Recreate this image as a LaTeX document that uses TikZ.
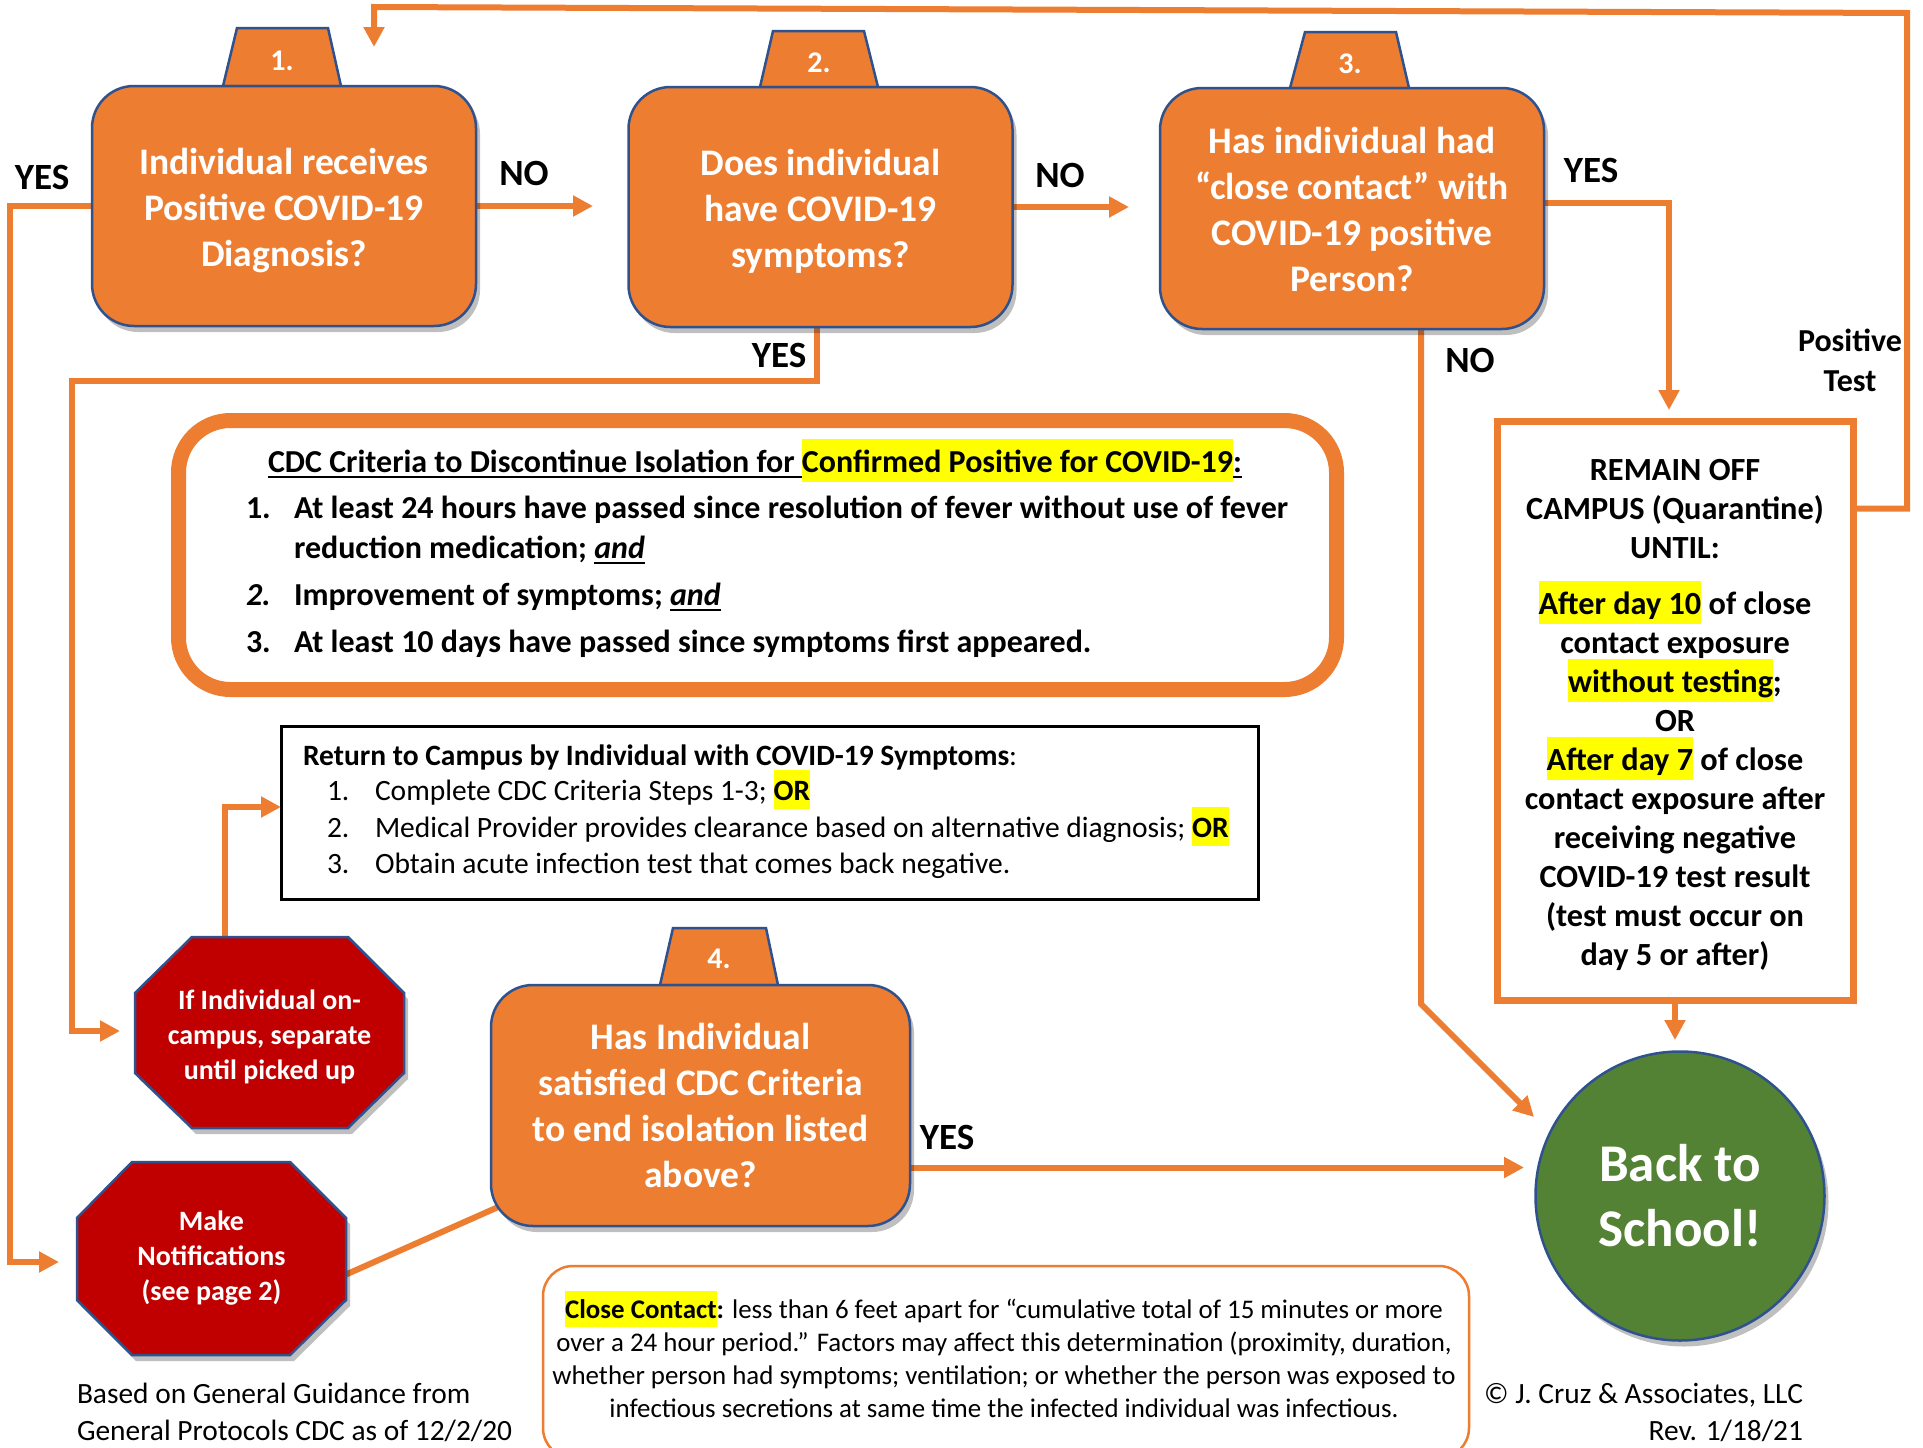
\documentclass[tikz,border=0pt]{standalone}
\usepackage{fontspec}
\setmainfont{Carlito}
\usetikzlibrary{arrows.meta,shadows,backgrounds}
\definecolor{boxorange}{HTML}{ED7D31}
\definecolor{boxblue}{HTML}{2F528F}
\definecolor{stopred}{HTML}{C00000}
\definecolor{schoolgreen}{HTML}{548235}
\definecolor{hlyellow}{HTML}{FFFF00}
\newsavebox\ulbox
\newcommand\hl[1]{\smash{\setlength{\fboxsep}{0pt}\colorbox{hlyellow}{\rule[-0.3em]{0pt}{1.33em}#1}}}
\newcommand\myul[1]{\sbox\ulbox{#1}\rlap{\rule[-6pt]{\wd\ulbox}{2.5pt}}\usebox\ulbox}
\newcommand\fsz[2]{\fontsize{#1}{#2}\selectfont}
\tikzset{
  every node/.style={inner sep=0pt,outer sep=0pt},
  shad/.style={drop shadow={shadow xshift=4pt,shadow yshift=-6pt,opacity=0.25,fill=black}},
  qbox/.style={draw=boxblue,line width=2.5pt,fill=boxorange,rounded corners=42pt,text=white,align=center,font=\fsz{37.5}{46}\bfseries,shad},
  tabfill/.style={draw=boxblue,line width=2.5pt,fill=boxorange,line join=miter},
  tabnum/.style={text=white,font=\fsz{30}{36}\bfseries,anchor=base},
  octfill/.style={draw=boxblue,line width=2.5pt,fill=stopred,line join=miter,shad},
  octtext/.style={text=white,align=center,font=\fsz{28}{35}\bfseries},
  lbl/.style={font=\fsz{37}{40}\bfseries},
  cdctext/.style={font=\fsz{32}{40}\bfseries,anchor=base west},
  rettext/.style={font=\fsz{29.5}{36},anchor=base west},
  arr/.style={draw=boxorange,line width=6pt,-{Triangle[length=20pt,width=20pt]}},
  conn/.style={draw=boxorange,line width=6pt},
}
\begin{document}
\begin{tikzpicture}[x=1pt,y=-1pt]
\useasboundingbox (0,0) rectangle (1923,1448);
% ---------- tabs ----------
\path[tabfill] (223,86) -- (237,28) -- (328,28) -- (341,86) -- cycle;
\node[tabnum] (t1) at (282,70) {1.};
\path[tabfill] (760,87) -- (773,31) -- (864,31) -- (878,87) -- cycle;
\node[tabnum] (t2) at (819,72) {2.};
\path[tabfill] (1290,88) -- (1305,32) -- (1396,32) -- (1409,88) -- cycle;
\node[tabnum] (t3) at (1350,73) {3.};
\path[tabfill] (660,985) -- (673,928) -- (766,928) -- (778,985) -- cycle;
\node[tabnum] (t4) at (719,968) {4.};
% ---------- question boxes ----------
\node[qbox,minimum width=384pt,minimum height=240pt] (b1) at (284,206) {\rule{0pt}{35pt}Individual receives\\Positive COVID-19\\Diagnosis?};
\node[qbox,minimum width=384pt,minimum height=240pt] (b2) at (820.5,207) {\rule{0pt}{35pt}Does individual\\have COVID-19\\symptoms?};
\node[qbox,minimum width=384pt,minimum height=241pt] (b3) at (1352,208.5) {\rule{0pt}{29pt}Has individual had\\“close contact” with\\COVID-19 positive\\Person?};
\node[qbox,minimum width=419pt,minimum height=241pt] (b4) at (700.5,1105.5) {Has Individual\\satisfied CDC Criteria\\to end isolation listed\\above?};
% ---------- CDC criteria box ----------
\node[draw=boxorange,line width=15pt,fill=white,rounded corners=52pt,minimum width=1158pt,minimum height=269pt,shad] (cdc) at (757.5,555) {};
\node[font=\fsz{32}{40}\bfseries,anchor=base] (cdct) at (755,472) {\myul{CDC Criteria to Discontinue Isolation for \hl{Confirmed Positive for COVID-19}:}};
\node[cdctext] (cn1) at (246,518) {1.};
\node[cdctext] (ci1) at (294,518) {At least 24 hours have passed since resolution of fever without use of fever};
\node[cdctext] (ci1b) at (294,558) {reduction medication; \myul{\textit{and}}};
\node[cdctext] (cn2) at (246,605) {\textit{2.}};
\node[cdctext] (ci2) at (294,605) {Improvement of symptoms; \myul{\textit{and}}};
\node[cdctext] (cn3) at (246,652) {3.};
\node[cdctext] (ci3) at (294,652) {At least 10 days have passed since symptoms first appeared.};
% ---------- return to campus box ----------
\node[draw=black,line width=3pt,fill=white,minimum width=977pt,minimum height=173pt] (ret) at (769.5,812.5) {};
\node[rettext] (rt) at (303,765) {\textbf{Return to Campus by Individual with COVID-19 Symptoms}:};
\node[rettext] (rn1) at (327,800) {1.};
\node[rettext] (ri1) at (375,800) {Complete CDC Criteria Steps 1-3; \hl{\textbf{OR}}};
\node[rettext] (rn2) at (327,837) {2.};
\node[rettext] (ri2) at (375,837) {Medical Provider provides clearance based on alternative diagnosis; \hl{\textbf{OR}}};
\node[rettext] (rn3) at (327,873) {3.};
\node[rettext] (ri3) at (375,873) {Obtain acute infection test that comes back negative.};
% ---------- remain off campus box ----------
\node[draw=boxorange,line width=7pt,fill=white,minimum width=356pt,minimum height=579pt] (rem) at (1675,710.5) {};
\node[font=\fsz{32.3}{39}\bfseries,align=center,anchor=base] (remt) at (1675,965) {REMAIN OFF\\CAMPUS (Quarantine)\\UNTIL:\\[17pt]\hl{After day 10} of close\\contact exposure\\\hl{without testing};\\OR\\\hl{After day 7} of close\\contact exposure after\\receiving negative\\COVID-19 test result\\(test must occur on\\day 5 or after)};
% ---------- octagons ----------
\path[octfill] (192,937) -- (348,937) -- (404,993) -- (404,1073) -- (348,1128) -- (192,1128) -- (135,1073) -- (135,993) -- cycle;
\node[octtext,minimum width=269pt,minimum height=191pt] (o1) at (269.5,1032.5) {\rule{0pt}{29pt}If Individual on-\\campus, separate\\until picked up};
\path[octfill] (132,1162) -- (290,1162) -- (346,1218) -- (346,1300) -- (290,1355) -- (132,1355) -- (77,1300) -- (77,1218) -- cycle;
\node[octtext,minimum width=269pt,minimum height=193pt] (o2) at (211.5,1258.5) {Make\\Notifications\\(see page 2)};
% ---------- back to school ----------
\node[circle,draw=boxblue,line width=2.5pt,fill=schoolgreen,minimum size=289pt,text=white,align=center,font=\fsz{53}{65}\bfseries,shad] (school) at (1680,1196) {Back to\\School!};
% ---------- close contact ----------
\node[draw=boxorange,line width=2.5pt,fill=white,rounded corners=30pt,minimum width=926pt,minimum height=192pt] (cc) at (1006,1362) {};
\node[font=\fsz{26.9}{32.7},align=center,anchor=base] (cct) at (1004,1417) {\hl{\textbf{Close Contact}}\textbf{:} less than 6 feet apart for “cumulative total of 15 minutes or more\\over a 24 hour period.” Factors may affect this determination (proximity, duration,\\whether person had symptoms; ventilation; or whether the person was exposed to\\infectious secretions at same time the infected individual was infectious.};
% ---------- footers ----------
\node[font=\fsz{29.4}{37},align=left,anchor=base west] (foot1) at (77,1440) {Based on General Guidance from\\General Protocols CDC as of 12/2/20};
\node[font=\fsz{29.4}{37},align=right,anchor=base east] (foot2) at (1803,1440) {© J. Cruz \& Associates, LLC\\Rev. 1/18/21};
% ---------- labels ----------
\node[lbl] (lyes1) at (42,177) {YES};
\node[lbl] (lno1) at (524,173) {NO};
\node[lbl] (lno2) at (1060,175) {NO};
\node[lbl] (lyes3) at (1591,170) {YES};
\node[lbl] (lyes2) at (779,355) {YES};
\node[lbl] (lno3) at (1470,360) {NO};
\node[font=\fsz{32}{40}\bfseries,align=center] (lpos) at (1850,360) {Positive\\Test};
\node[lbl] (lyes4) at (947,1137) {YES};
% ---------- connectors ----------
\begin{scope}[on background layer]
\fill[white] (0,0) rectangle (1923,1448);
\coordinate (c1) at (593,206);
\coordinate (c2) at (1129,207);
\coordinate (c3a) at (10,206);
\coordinate (c3tip) at (59,1262);
\coordinate (c4a) at (72,381);
\coordinate (c4tip) at (120,1031);
\coordinate (c5tip) at (1669,410);
\coordinate (c6a) at (1421,1004);
\coordinate (c6tip) at (1534,1117);
\coordinate (c7a) at (1907,508.5);
\coordinate (c7b) at (1907,13);
\coordinate (c7c) at (374,7);
\coordinate (c7tip) at (374,47);
\coordinate (c10tip) at (1524,1167.5);
\coordinate (c11tip) at (1675,1040);
\draw[arr] (b1.east) -- (c1);
\draw[arr] (b2.east) -- (c2);
\draw[arr] (b1.west) -- (c3a) |- (c3tip);
\draw[arr] ([xshift=-4pt]b2.south) |- (c4a) |- (c4tip);
\draw[arr] ([yshift=6pt]b3.east) -| (c5tip);
\draw[arr] ([xshift=69pt]b3.south) -- (c6a) -- (c6tip);
\draw[arr] ([yshift=202pt]rem.east) -- (c7a) -- (c7b) -- (c7c) -- (c7tip);
\draw[arr] ([xshift=-44.5pt]o1.north) |- ([yshift=5.5pt]ret.west);
\draw[conn] ([yshift=-16pt]o2.east) -- ([xshift=14pt,yshift=22pt]b4.south west);
\draw[arr] ([yshift=-62pt]b4.east) -- (c10tip);
\draw[arr] (rem.south) -- (c11tip);
\end{scope}
\end{tikzpicture}
\end{document}
